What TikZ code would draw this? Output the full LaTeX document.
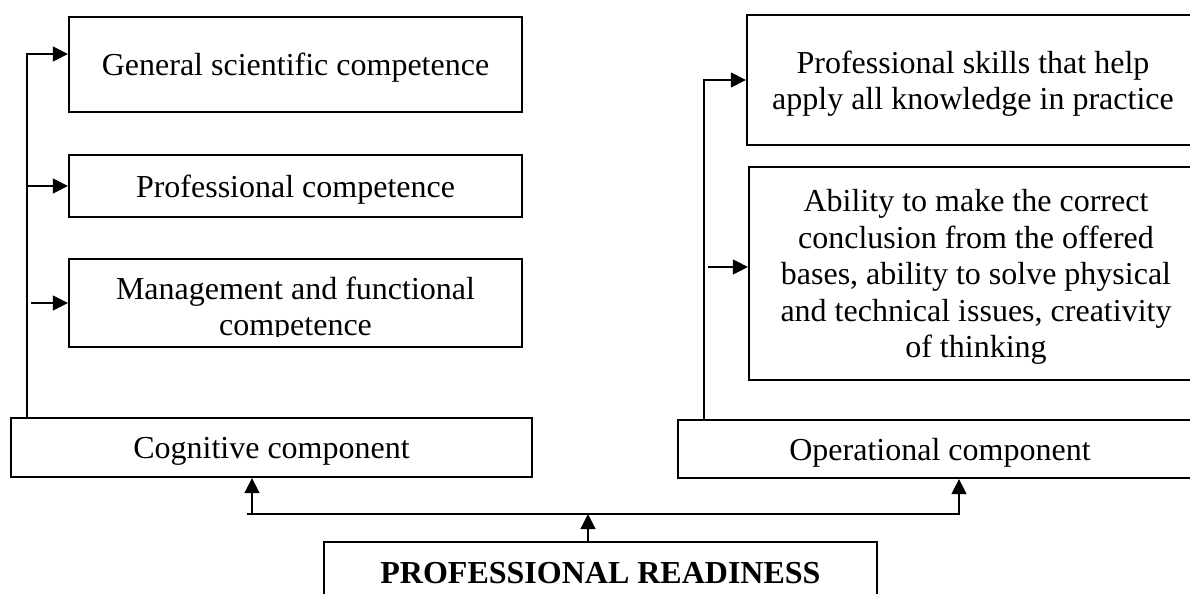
\documentclass[tikz,border=0pt]{standalone}
\usepackage{fontspec}
\setmainfont{Liberation Serif}
\usepackage{tikz}
\usetikzlibrary{arrows.meta}
\tikzset{>={Triangle[length=7.5pt,width=7.5pt]}}
\tikzset{box/.style={draw, line width=1.1pt, align=center, inner sep=0pt, text depth=0pt, font=\fontsize{16}{18.25}\selectfont}}
\tikzset{link/.style={line width=0.6pt}}

\begin{document}
\begin{tikzpicture}[x=0.5pt,y=-0.5pt]
    \clip (0,0) rectangle (1190,594);
    \node[box, minimum width=226.5pt, minimum height=47.5pt] (gsc) at (295.5,64.5) {General scientific competence};
    \node[box, minimum width=226.5pt, minimum height=31pt] (prc) at (295.5,186) {Professional competence};
    \node[box, minimum width=226.5pt, minimum height=44pt] (mfc) at (295.5,303) {};
    \begin{scope}
        \clip (mfc.north west) rectangle ([yshift=5.75pt]mfc.south east);
        \node[box, draw=none, yshift=-1.5pt] (mfctext) at (mfc) {Management and functional\\competence};
    \end{scope}
    \node[box, minimum width=260.5pt, minimum height=29.5pt] (cog) at (271.5,447.5) {Cognitive component};
    \node[box, minimum width=226pt, minimum height=65pt] (psk) at (973,80) {Professional skills that help\\apply all knowledge in practice};
    \node[box, minimum width=227pt, minimum height=106.5pt] (abl) at (976,273.5) {Ability to make the correct\\conclusion from the offered\\bases, ability to solve physical\\and technical issues, creativity\\of thinking};
    \node[box, minimum width=262pt, minimum height=29pt] (opc) at (940,449) {Operational component};
    \node[box, minimum width=276.5pt, minimum height=30.5pt, font=\fontsize{16}{18.25}\selectfont\bfseries] (prd) at (600.5,572.5) {PROFESSIONAL READINESS};

    \coordinate (lsp) at (27,54);
    \coordinate (rsp) at (704,80);
    \coordinate (busl) at (252,514);
    \coordinate (busc) at (588,514);
    \coordinate (busr) at (959,514);

    \draw[link,->] (lsp |- cog.north) -- (lsp) -- (gsc.west |- lsp);
    \draw[link,->] (lsp |- prc.west) -- (prc.west);
    \draw[link,->] ([xshift=2pt]lsp |- mfc.west) -- (mfc.west);
    \draw[link,->] (rsp |- opc.north) -- (rsp) -- (psk.west);
    \draw[link,->] ([xshift=2pt]rsp |- 0,267) -- (abl.west |- 0,267);
    \draw[link,->] (prd.north -| busc) -- (busc);
    \draw[link,->] ([xshift=-2.5pt]busl) -- (busr) -- (busr |- opc.south);
    \draw[link,->] (busl) -- (busl |- cog.south);
\end{tikzpicture}
\end{document}
